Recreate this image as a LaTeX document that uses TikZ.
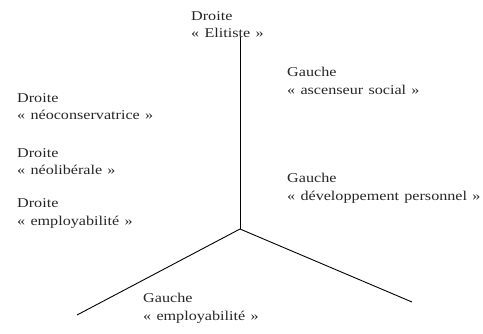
\documentclass[tikz,border=0pt]{standalone}
\usepackage{fontspec}
\setmainfont[FakeStretch=1.2,WordSpace=1.3]{Liberation Serif}
\begin{document}
\begin{tikzpicture}[x=1bp,y=-1bp,
  lbl/.style={anchor=north west,inner sep=0pt,align=left,
    font=\fontsize{13.5}{17.8}\selectfont,text=black!85},
  axis/.style={draw=black,line width=0.9bp}]
\useasboundingbox (0,0) rectangle (483,333);
\coordinate (c) at (240,229);
\coordinate (top) at (240,37);
\coordinate (bl) at (77,315);
\coordinate (br) at (412,302);
\draw[axis] (top) -- (c);
\draw[axis] (bl) -- (c) -- (br);
\node[lbl] (elit) at (191,11) {Droite\\« Elitiste »};
\node[lbl] (asc) at (287,67) {Gauche\\« ascenseur social »};
\node[lbl] (neoc) at (17,93) {Droite\\« néoconservatrice »};
\node[lbl] (neol) at (17,148) {Droite\\« néolibérale »};
\node[lbl] (empd) at (17,198.5) {Droite\\« employabilité »};
\node[lbl] (dev) at (287,173) {Gauche\\« développement personnel »};
\node[lbl] (empg) at (143,293) {Gauche\\« employabilité »};
\end{tikzpicture}
\end{document}
